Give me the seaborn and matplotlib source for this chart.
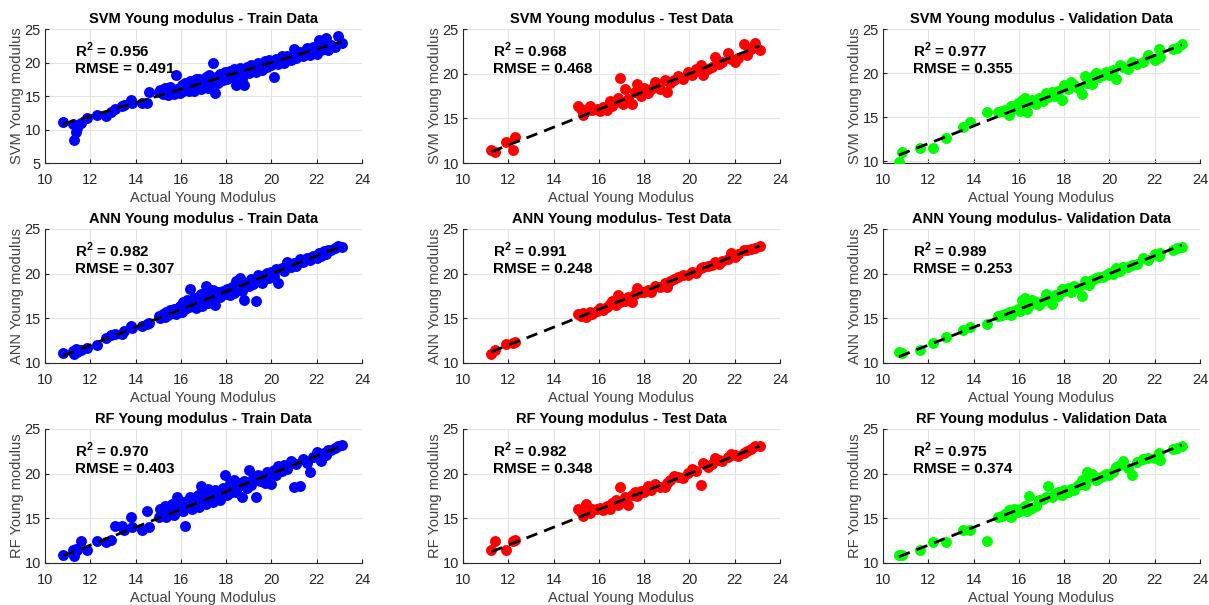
import matplotlib
matplotlib.use("Agg")
import matplotlib.pyplot as plt
import seaborn as sns

# ---- data ----
train_actual = [10.8, 11.25, 11.3, 11.35, 11.4, 11.6, 11.85, 12.3, 12.7, 12.9, 13.1, 13.4, 13.5, 13.8, 13.85, 14.3, 14.5, 14.6,
                15.05, 15.1, 15.2, 15.3, 15.35, 15.45, 15.5, 15.6, 15.7, 15.8, 15.85, 15.95,
                16.05, 16.1, 16.2, 16.25, 16.35, 16.4, 16.5, 16.6, 16.65, 16.75, 16.8, 16.9, 16.95,
                17.05, 17.1, 17.2, 17.25, 17.35, 17.4, 17.5, 17.55, 17.65, 17.75, 17.85, 17.95,
                18.05, 18.15, 18.25, 18.35, 18.45, 18.55, 18.6, 18.7, 18.8, 18.9,
                19.0, 19.1, 19.2, 19.3, 19.4, 19.5, 19.6, 19.7, 19.8, 19.9,
                20.0, 20.1, 20.2, 20.3, 20.45, 20.55, 20.7, 20.85,
                21.0, 21.1, 21.25, 21.4, 21.55, 21.7, 21.85,
                22.0, 22.1, 22.2, 22.3, 22.4, 22.5, 22.65, 22.8, 22.95, 23.1]

svm_train = [11.1, 10.8, 8.4, 9.7, 10.2, 10.9, 11.7, 12.1, 12.0, 12.6, 13.1, 13.5, 13.6, 14.4, 13.9, 14.0, 14.0, 15.6,
             15.6, 15.9, 15.3, 16.2, 15.6, 15.1, 16.3, 15.7, 15.3, 18.2, 16.0, 15.5,
             16.6, 15.8, 16.9, 16.2, 15.7, 17.3, 16.4, 15.8, 17.5, 16.6, 17.6, 16.0, 17.4,
             16.8, 17.9, 16.2, 18.1, 17.0, 20.0, 15.5, 17.8, 16.9, 18.3, 17.4, 18.6,
             17.6, 18.7, 17.9, 19.0, 16.6, 18.2, 19.2, 17.6, 16.6, 19.3,
             18.4, 19.7, 19.0, 18.6, 20.0, 19.2, 18.9, 20.2, 19.4, 20.3,
             19.6, 17.8, 20.5, 19.8, 20.9, 19.9, 21.0, 20.4,
             22.0, 20.7, 21.6, 21.0, 22.1, 21.1, 22.3,
             21.3, 23.3, 21.8, 23.0, 23.6, 21.8, 22.6, 22.3, 23.9, 22.9]

ann_train = [11.1, 11.3, 11.0, 11.6, 11.2, 11.5, 11.7, 12.0, 12.8, 13.1, 13.3, 13.2, 13.6, 14.1, 13.9, 14.1, 14.4, 14.5,
             15.3, 15.0, 15.5, 15.2, 15.7, 15.4, 15.9, 15.6, 16.1, 15.5, 16.0, 16.4,
             15.7, 16.8, 16.0, 17.0, 16.3, 18.3, 16.5, 17.3, 16.2, 17.4, 16.6, 17.7, 16.4,
             17.3, 18.6, 16.7, 17.8, 17.1, 18.2, 16.5, 17.6, 18.0, 17.4, 18.1, 17.7,
             18.3, 17.6, 18.5, 17.8, 19.2, 18.3, 19.5, 18.1, 17.0, 19.0,
             18.6, 19.4, 18.8, 16.9, 19.9, 19.2, 18.9, 19.8, 20.1, 19.5,
             20.2, 19.7, 20.5, 18.9, 20.6, 20.3, 21.3, 20.7,
             21.2, 20.9, 21.6, 21.3, 21.8, 21.5, 22.0,
             21.8, 22.3, 22.0, 22.5, 22.2, 22.6, 22.7, 22.9, 23.1, 23.0]

rf_train = [10.9, 11.5, 10.8, 11.6, 11.4, 12.5, 11.4, 12.5, 12.4, 12.6, 14.1, 14.1, 13.7, 15.1, 14.0, 13.7, 15.8, 14.0,
            15.2, 16.0, 15.6, 16.4, 15.1, 16.0, 15.7, 16.6, 15.4, 16.2, 17.4, 15.9,
            16.8, 15.8, 14.1, 16.9, 16.3, 17.4, 16.0, 17.2, 16.5, 17.6, 16.3, 18.6, 17.0,
            17.8, 16.6, 18.3, 17.1, 17.9, 16.8, 18.2, 17.3, 18.0, 17.0, 18.4, 19.8,
            17.6, 18.9, 18.0, 19.3, 17.9, 18.6, 19.0, 17.4, 19.2, 18.4,
            20.4, 18.7, 19.5, 17.4, 19.9, 19.2, 19.7, 19.0, 20.2, 19.6,
            18.8, 20.4, 19.9, 20.9, 20.3, 21.0, 20.5, 21.4,
            18.5, 21.1, 18.6, 21.6, 21.2, 20.2, 21.9,
            22.4, 21.8, 21.4, 22.3, 22.1, 22.7, 22.6, 22.9, 23.1, 23.2]

test_actual = [11.25, 11.4, 11.9, 12.2, 12.3,
               15.1, 15.2, 15.3, 15.45, 15.6, 15.7, 15.9, 16.05, 16.2, 16.35, 16.5, 16.6, 16.75, 16.85, 16.95,
               17.05, 17.15, 17.3, 17.45, 17.6, 17.7, 17.85, 18.0, 18.15, 18.3, 18.5, 18.7, 18.9,
               19.0, 19.15, 19.3, 19.5, 19.7, 19.95, 20.1, 20.3, 20.5, 20.6, 20.8,
               21.0, 21.15, 21.3, 21.45, 21.7, 21.85, 22.0, 22.15, 22.4, 22.55, 22.7, 22.9, 23.1]

svm_test = [11.5, 11.2, 12.3, 11.5, 12.9,
            16.4, 16.1, 15.4, 15.8, 16.4, 15.9, 16.1, 15.8, 16.3, 15.9, 16.9, 16.4, 16.8, 17.3, 19.5,
            16.6, 18.3, 17.2, 16.6, 17.9, 18.8, 17.5, 18.4, 17.8, 18.3, 19.1, 18.3, 19.3,
            17.9, 19.0, 19.3, 19.7, 19.4, 20.2, 19.9, 20.5, 21.0, 19.9, 20.5,
            20.8, 21.9, 21.1, 21.3, 22.3, 21.6, 21.3, 21.8, 23.3, 22.1, 22.8, 23.4, 22.6]

ann_test = [11.0, 11.4, 12.1, 12.2, 12.3,
            15.5, 15.3, 15.6, 15.2, 15.7, 15.5, 15.8, 16.2, 15.9, 16.3, 16.6, 16.9, 16.5, 17.6, 16.8,
            17.2, 16.9, 17.4, 16.8, 17.7, 18.4, 17.9, 18.0, 18.2, 17.9, 18.6, 18.5, 18.9,
            18.5, 19.2, 19.4, 19.6, 19.8, 19.9, 20.2, 20.1, 20.6, 20.8, 20.9,
            21.0, 21.3, 21.1, 21.4, 21.6, 22.3, 21.9, 22.2, 22.7, 22.6, 22.8, 22.9, 23.1]

rf_test = [11.5, 12.5, 11.5, 12.5, 12.6,
           16.1, 15.7, 15.3, 16.6, 15.6, 16.1, 16.0, 16.2, 15.9, 16.4, 16.0, 16.7, 17.1, 16.5, 18.5,
           16.9, 17.4, 16.5, 17.6, 18.0, 17.5, 18.1, 18.0, 18.6, 18.2, 18.8, 18.5, 18.5,
           19.0, 19.3, 19.7, 19.6, 19.5, 20.1, 20.5, 20.3, 18.7, 21.2, 20.8,
           21.1, 21.7, 21.5, 21.4, 21.9, 22.2, 22.1, 22.0, 22.3, 22.5, 22.8, 23.1, 23.1]

val_actual = [10.7, 10.85, 11.65, 12.2, 12.8, 13.55, 13.85, 14.6,
              15.1, 15.25, 15.4, 15.55, 15.65, 15.8, 15.95, 16.05, 16.15, 16.25, 16.35, 16.45, 16.6, 16.75, 16.9,
              17.05, 17.2, 17.3, 17.45, 17.6, 17.75, 17.9, 18.0, 18.15, 18.3, 18.45, 18.6, 18.8, 18.9,
              19.0, 19.1, 19.25, 19.4, 19.55, 19.7, 19.85, 20.0, 20.15, 20.3, 20.45, 20.6, 20.8,
              21.0, 21.2, 21.5, 21.7, 22.0, 22.2, 22.25, 22.8, 23.0, 23.2]

svm_val = [9.9, 11.1, 11.5, 11.5, 12.6, 13.9, 14.4, 15.6,
           15.6, 15.7, 15.8, 15.3, 16.3, 16.0, 16.6, 15.7, 16.9, 17.2, 15.6, 16.7, 17.0, 16.5, 17.2,
           16.8, 17.7, 17.3, 17.9, 17.4, 18.0, 17.0, 18.6, 18.2, 19.0, 18.6, 18.3, 17.6, 19.7,
           18.9, 19.4, 18.8, 20.0, 19.5, 19.8, 20.1, 19.8, 20.3, 19.3, 20.9, 20.7, 20.5,
           21.3, 21.0, 21.3, 22.0, 21.5, 22.7, 21.8, 22.7, 22.9, 23.3]

ann_val = [11.2, 11.1, 11.5, 12.2, 12.9, 13.7, 14.0, 14.4,
           15.3, 15.4, 15.5, 15.7, 15.4, 15.8, 16.0, 15.8, 17.0, 17.3, 16.1, 16.5, 17.1, 16.8, 16.5,
           16.9, 17.7, 17.2, 16.6, 17.6, 17.5, 18.3, 18.1, 18.4, 17.9, 18.6, 18.4, 17.5, 19.2,
           18.8, 18.7, 19.3, 19.5, 19.6, 19.6, 19.9, 20.1, 20.0, 20.6, 20.3, 20.8, 20.7,
           21.0, 21.1, 21.7, 21.5, 22.2, 22.0, 22.3, 22.7, 22.9, 23.0]

rf_val = [10.9, 10.9, 11.5, 12.4, 12.4, 13.7, 13.7, 12.5,
          15.1, 15.3, 15.5, 15.9, 15.1, 16.0, 15.7, 16.1, 15.9, 16.4, 15.8, 17.5, 16.2, 16.4, 17.1,
          17.2, 17.4, 18.6, 17.4, 17.7, 17.9, 17.6, 18.2, 18.0, 18.3, 18.2, 18.7, 19.3, 18.7,
          20.2, 19.6, 20.0, 19.3, 19.5, 19.7, 20.0, 19.8, 20.2, 20.7, 21.0, 21.4, 20.6,
          19.8, 21.3, 21.6, 21.8, 21.7, 22.3, 21.5, 22.8, 22.9, 23.1]

models = ["SVM", "ANN", "RF"]
r2_text = [["0.956", "0.968", "0.977"], ["0.982", "0.991", "0.989"], ["0.970", "0.982", "0.975"]]
rmse_text = [["0.491", "0.468", "0.355"], ["0.307", "0.248", "0.253"], ["0.403", "0.348", "0.374"]]
titles = [["SVM Young modulus - Train Data", "SVM Young modulus - Test Data", "SVM Young modulus - Validation Data"],
          ["ANN Young modulus - Train Data", "ANN Young modulus- Test Data", "ANN Young modulus- Validation Data"],
          ["RF Young modulus - Train Data", "RF Young modulus - Test Data", "RF Young modulus - Validation Data"]]

actuals = [train_actual, test_actual, val_actual]
preds = [[svm_train, svm_test, svm_val], [ann_train, ann_test, ann_val], [rf_train, rf_test, rf_val]]
colors = ["#0000ff", "#ff0000", "#00ff00"]
ylims = [[(5, 25), (10, 25), (9.8, 25)], [(10, 25), (10, 25), (10, 25)], [(10, 25), (10, 25), (10, 25)]]

# ---- figure ----
sns.set_style("whitegrid")
plt.rcParams['font.family'] = ['Liberation Sans', 'DejaVu Sans']
plt.rcParams['mathtext.fontset'] = 'custom'
plt.rcParams['mathtext.bf'] = 'Liberation Sans:bold'
plt.rcParams['mathtext.rm'] = 'Liberation Sans:bold'

W, H = 1209, 605
fig = plt.figure(figsize=(W / 100, H / 100), dpi=100)

lefts = [45, 463, 883]
tops = [29, 229, 429]
aw, ah = 317, 134

for i in range(3):
    for j in range(3):
        ax = fig.add_axes([lefts[j] / W, 1 - (tops[i] + ah) / H, aw / W, ah / H])
        x = actuals[j]
        y = preds[i][j]
        c = colors[j]
        sns.scatterplot(x=x, y=y, color=c, s=62, linewidth=0, ax=ax, zorder=3)
        ax.plot([min(x), max(x)], [min(x), max(x)], color='black', ls='--', lw=2,
                dashes=(4.2, 2.6), zorder=4)

        ax.set_xlim(10, 24)
        ax.set_ylim(*ylims[i][j])
        ax.set_xticks([10, 12, 14, 16, 18, 20, 22, 24])
        yt = [5, 10, 15, 20, 25] if ylims[i][j][0] == 5 else [10, 15, 20, 25]
        ax.set_yticks(yt)
        ax.grid(True, color='#e3e3e3', lw=0.8)
        for s in ['top', 'right']:
            ax.spines[s].set_visible(False)
        for s in ['left', 'bottom']:
            ax.spines[s].set_color('#262626')
            ax.spines[s].set_linewidth(0.8)
        ax.tick_params(direction='in', length=3, width=0.8, labelsize=10.5,
                       colors='#262626', left=True, bottom=True)
        ax.tick_params(axis='x', pad=7)
        ax.tick_params(axis='y', pad=3)
        ax.set_xlabel("Actual Young Modulus", fontsize=10.5, color='#404040', labelpad=3)
        ax.set_ylabel(f"{models[i]} Young modulus", fontsize=10.5, color='#404040', labelpad=0)
        ax.set_title(titles[i][j], fontsize=10.5, fontweight='bold', color='black', pad=4)
        ax.text(0.095, 0.84, r"R$^{2}$" + f" = {r2_text[i][j]}", transform=ax.transAxes,
                fontsize=11, fontweight='bold', color='black', va='center')
        ax.text(0.095, 0.70, f"RMSE = {rmse_text[i][j]}", transform=ax.transAxes,
                fontsize=11, fontweight='bold', color='black', va='center')

fig.savefig("out.png", dpi=100)
